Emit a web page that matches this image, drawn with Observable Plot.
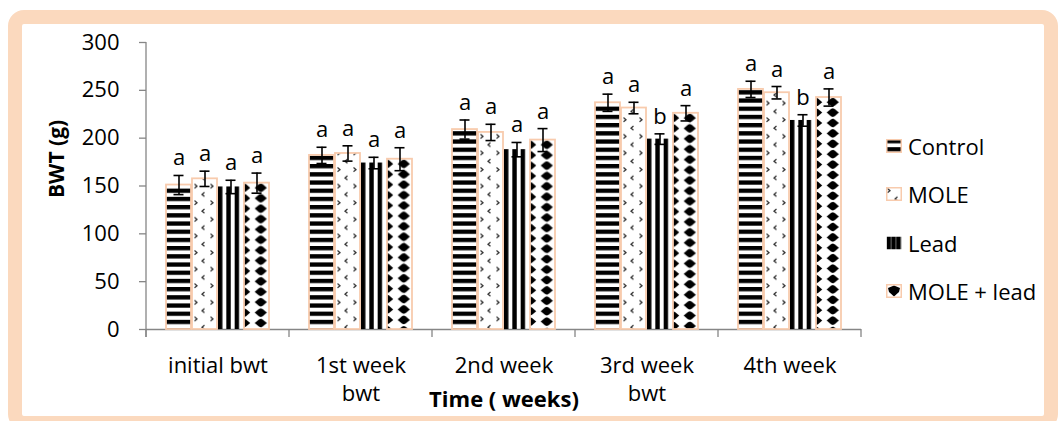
<!DOCTYPE html>
<html>
<head>
<meta charset="utf-8">
<script src="https://cdn.jsdelivr.net/npm/d3@7"></script>
<script src="https://cdn.jsdelivr.net/npm/@observablehq/plot@0.6"></script>
<style>
  html, body { margin: 0; padding: 0; background: #fff; width: 1064px; height: 421px; overflow: hidden; }
  #frame { position: absolute; left: 8px; top: 10px; width: 1050px; height: 420px; box-sizing: border-box;
           border: 14px solid #FBD9BE; border-radius: 16px; }
  #chart { position: absolute; left: 0; top: 0; }
  #legend { position: absolute; left: 886px; top: 131px; display: flex; flex-direction: column; gap: 18.3px;
            font-family: "Open Sans", sans-serif; font-size: 22px; color: #000; }
  .item { display: flex; align-items: center; height: 30px; white-space: nowrap; }
  .item svg { margin-right: 6px; flex: none; }
</style>
</head>
<body>
<svg width="0" height="0" style="position:absolute">
  <defs>
    <pattern id="pat0" patternUnits="userSpaceOnUse" width="40" height="8.2">
      <rect width="40" height="8.2" fill="#fff"></rect>
      <rect width="40" height="4.3" fill="#000"></rect>
    </pattern>
    <pattern id="pat1" patternUnits="userSpaceOnUse" width="16" height="16.6">
      <rect width="16" height="16.6" fill="#fff"></rect>
      <path d="M1.5,1.5 L4,3.6 L1.5,5.7 M11.5,9.8 L9,11.9 L11.5,14" fill="none" stroke="#333" stroke-width="1.3"></path>
    </pattern>
    <pattern id="pat2" patternUnits="objectBoundingBox" patternContentUnits="userSpaceOnUse" width="0.3333" height="1">
      <rect width="4.4" height="2000" fill="#000"></rect>
    </pattern>
    <pattern id="pat3" patternUnits="objectBoundingBox" patternContentUnits="userSpaceOnUse" width="0.6667" height="1">
      <rect width="40" height="2000" fill="#fff"></rect>
      <path id="diamonds" fill="#000"></path>
    </pattern>
    <pattern id="pat3s" patternUnits="userSpaceOnUse" width="16" height="14">
      <rect width="16" height="14" fill="#fff"></rect>
      <path d="M2,4 L8,1.5 L14,4 L13,8 L8,12.5 L3,8 Z" fill="#000"></path>
    </pattern>
  </defs>
</svg>
<div id="frame"></div>
<div id="chart"></div>
<div id="legend"></div>
<script>
// ---- data ----
const groups = ["initial bwt", "1st week\nbwt", "2nd week", "3rd week\nbwt", "4th week"];
const series = ["Control", "MOLE", "Lead", "MOLE + lead"];
const controlMean  = [151, 182, 209, 237, 251];
const moleMean     = [157.5, 184, 206, 231.5, 247.5];
const leadMean     = [149, 174, 188, 199, 218.5];
const moleLeadMean = [153, 178, 198, 226, 242.5];
const controlErr   = [10, 8.5, 10, 9, 8.5];
const moleErr      = [8, 8, 8.5, 6, 6.5];
const leadErr      = [7, 6, 7.5, 5.5, 6];
const moleLeadErr  = [10.5, 12, 12, 8, 9];
const controlSig   = ["a", "a", "a", "a", "a"];
const moleSig      = ["a", "a", "a", "a", "a"];
const leadSig      = ["a", "a", "a", "b", "b"];
const moleLeadSig  = ["a", "a", "a", "a", "a"];
const yTicks = [0, 50, 100, 150, 200, 250, 300];
const xTitle = "Time ( weeks)";
const yTitle = "BWT (g)";

// diamond pattern decoration (separate rounded blobs)
{
  let d = "";
  for (let k = 0; k < 60; k++) {
    const cy = 5.2 + k * 10.4;
    for (const cx of [0, 16.9]) {
      d += `M${cx - 6.2},${cy} L${cx - 2},${cy - 3.6} L${cx},${cy - 4.4} L${cx + 2},${cy - 3.6} L${cx + 6.2},${cy} `
         + `L${cx + 2},${cy + 3.6} L${cx},${cy + 4.4} L${cx - 2},${cy + 3.6} Z `;
    }
  }
  document.getElementById("diamonds").setAttribute("d", d);
}

const means = [controlMean, moleMean, leadMean, moleLeadMean];
const errs = [controlErr, moleErr, leadErr, moleLeadErr];
const sigs = [controlSig, moleSig, leadSig, moleLeadSig];
const data = groups.flatMap((g, i) => series.map((s, j) => ({
  group: g, series: s, value: means[j][i], err: errs[j][i], sig: sigs[j][i]
})));

const peach = "#F8CBAD";
const axisGray = "#868686";
const font = "'Open Sans', sans-serif";

const chart = Plot.plot({
  width: 1064,
  height: 421,
  marginLeft: 145,
  marginRight: 202,
  marginTop: 42,
  marginBottom: 92,
  style: {background: "transparent", fontFamily: font, fontSize: "22px", color: "#000", overflow: "visible"},
  fx: {domain: groups, padding: 0, label: null},
  x: {domain: series, paddingInner: 0.05, paddingOuter: 0.72, axis: null},
  y: {domain: [0, 300], axis: null},
  color: {domain: series, range: series.map((s, i) => `url(#pat${i})`)},
  marks: [
    Plot.axisY({ticks: yTicks, tickSize: 7, tickPadding: 20, stroke: axisGray, strokeWidth: 1.3,
                fill: "#000", fontSize: 22, label: null}),
    Plot.axisFx({anchor: "bottom", tickSize: 0, tickPadding: 24, fontSize: 22, fill: "#000", label: null, lineHeight: 1.27}),
    Plot.ruleY([0], {stroke: axisGray, strokeWidth: 1.3}),
    Plot.barY(data, {filter: d => d.series !== "Lead", fx: "group", x: "series", y: "value",
                     fill: "series", stroke: peach, strokeWidth: 1.8}),
    Plot.barY(data, {filter: d => d.series === "Lead", fx: "group", x: "series", y: "value", fill: "series"}),
    Plot.ruleX(data, {fx: "group", x: "series", y1: d => d.value - d.err, y2: d => d.value + d.err,
                      stroke: "#000", strokeWidth: 1.6}),
    Plot.tickY(data, {fx: "group", x: "series", y: d => d.value + d.err, insetLeft: 7.5, insetRight: 7.5,
                      stroke: "#000", strokeWidth: 1.6}),
    Plot.tickY(data, {fx: "group", x: "series", y: d => d.value - d.err, insetLeft: 7.5, insetRight: 7.5,
                      stroke: "#000", strokeWidth: 1.6}),
    Plot.text(data, {fx: "group", x: "series", y: d => d.value + d.err, text: "sig", lineAnchor: "bottom",
                     dy: -10, fontSize: 22, fill: "#000"}),
    Plot.text([xTitle], {facet: "super", frameAnchor: "bottom", dy: 77, fontWeight: "bold", fontSize: 22, fill: "#000"}),
    Plot.text([yTitle], {facet: "super", frameAnchor: "left", rotate: -90, dx: -89, dy: 12,
                         fontWeight: "bold", fontSize: 21, fill: "#000"})
  ]
});

// axis line and category separator ticks, derived from Plot's scales
{
  const fxS = chart.scale("fx");
  const yS = chart.scale("y");
  const y0 = yS.apply(0), yTop = yS.apply(yTicks[yTicks.length - 1]);
  const last = groups[groups.length - 1];
  const edges = [...groups.map(g => fxS.apply(g)), fxS.apply(last) + fxS.bandwidth];
  const g = d3.select(chart).append("g").attr("stroke", axisGray).attr("stroke-width", 1.3);
  g.append("line").attr("x1", edges[0]).attr("x2", edges[0]).attr("y1", yTop).attr("y2", y0 + 8);
  for (const x of edges) g.append("line").attr("x1", x).attr("x2", x).attr("y1", y0).attr("y2", y0 + 8);
}

document.getElementById("chart").append(chart);

// legend
const legend = d3.select("#legend");
series.forEach((s, i) => {
  const item = legend.append("div").attr("class", "item");
  const sw = item.append("svg").attr("width", 16).attr("height", 14);
  sw.append("rect").attr("x", 0.75).attr("y", 0.75).attr("width", 14.5).attr("height", 12.5)
    .attr("fill", i === 3 ? "url(#pat3s)" : `url(#pat${i})`)
    .attr("stroke", s === "Lead" ? "none" : peach).attr("stroke-width", 1.5);
  item.append("span").text(s);
});
</script>
</body>
</html>
